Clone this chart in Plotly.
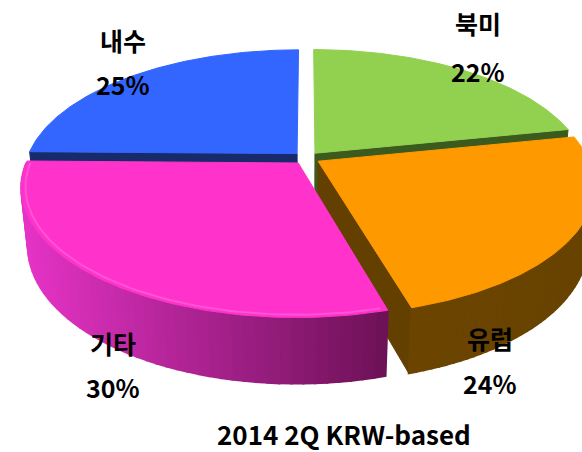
import numpy as np
import plotly.graph_objects as go

# ---------------- data ----------------
categories = ["북미", "유럽", "기타", "내수"]
values = [22, 24, 30, 25]
pct_labels = ["22%", "24%", "30%", "25%"]
title_text = "2014 2Q KRW-based"

# ---------------- style ----------------
top_colors = ["#92D050", "#FF9900", "#FF33CC", "#3366FF"]
radial_colors = ["#3B5A1E", "#634000", "#7A1560", "#172A6A"]
wall_left_colors = ["#4A6E26", "#6B4500", "#E533C6", "#1E3580"]
wall_right_colors = ["#4A6E26", "#684300", "#6C1156", "#1E3580"]
rim_highlight = [False, False, True, False]
label_pos = [(478, 23, 71), (490, 338, 383), (113, 343, 387), (123, 40, 84)]
FONT = "Noto Sans CJK KR"

# projection parameters (pixel space)
W, H = 582, 452
CX, CY = 306.5, 158.0
S = 270.0
ALPHA = np.radians(27.4)
DIST = 4.85
THICK = 0.245
EXPLODE = 0.05
sinA, cosA = np.sin(ALPHA), np.cos(ALPHA)


def proj(X, Yd, z):
    X = np.asarray(X, float)
    Yd = np.asarray(Yd, float)
    depth = -Yd * cosA + z * sinA
    sy = Yd * sinA + z * cosA
    f = DIST / (DIST - depth)
    return CX + S * X * f, CY - S * sy * f


def lerp_color(c1, c2, t):
    a = [int(c1[i:i + 2], 16) for i in (1, 3, 5)]
    b = [int(c2[i:i + 2], 16) for i in (1, 3, 5)]
    c = [round(a[k] + (b[k] - a[k]) * t) for k in range(3)]
    return "#%02X%02X%02X" % tuple(c)


fig = go.Figure()


def poly(xs, ys, color, lw=1.0):
    xs = list(xs) + [xs[0]]
    ys = list(ys) + [ys[0]]
    fig.add_trace(go.Scatter(x=xs, y=ys, mode="lines", fill="toself",
                             fillcolor=color, line=dict(color=color, width=lw),
                             hoverinfo="skip", showlegend=False))


vals = np.array(values, float)
fr = vals / vals.sum()
bounds = np.concatenate([[0], np.cumsum(fr)]) * 2 * np.pi  # clockwise from top

slices = []
for i in range(len(values)):
    a0, a1 = bounds[i], bounds[i + 1]
    mid = (a0 + a1) / 2
    ox, oy = EXPLODE * np.sin(mid), EXPLODE * np.cos(mid)
    slices.append((a0, a1, ox, oy))

# painter's order: back slices first
order = sorted(range(len(values)),
               key=lambda i: np.cos((bounds[i] + bounds[i + 1]) / 2), reverse=True)

for i in order:
    a0, a1, ox, oy = slices[i]
    # radial faces (visible if facing the viewer)
    for ang, sgn in ((a0, -1), (a1, 1)):
        nang = ang + sgn * np.pi / 2
        if np.cos(nang) < -0.05:
            X = np.array([ox, ox + np.sin(ang), ox + np.sin(ang), ox])
            Y = np.array([oy, oy + np.cos(ang), oy + np.cos(ang), oy])
            zz = np.array([0, 0, -THICK, -THICK])
            px, py = [], []
            for k in range(4):
                x_, y_ = proj(X[k], Y[k], zz[k])
                px.append(float(x_)); py.append(float(y_))
            poly(px, py, radial_colors[i])
    # outer wall (front-facing part), drawn as shaded strips
    lo, hi = max(a0, np.pi / 2), min(a1, 1.5 * np.pi)
    if hi > lo:
        n = 50
        th = np.linspace(lo, hi, n + 1)
        X = ox + np.sin(th)
        Y = oy + np.cos(th)
        tx, ty = proj(X, Y, 0.0)
        bx, by = proj(X, Y, -THICK)
        xmin, xmax = min(tx.min(), bx.min()), max(tx.max(), bx.max())
        for k in range(n):
            xm = (tx[k] + tx[k + 1]) / 2
            t = (xm - xmin) / max(xmax - xmin, 1)
            col = lerp_color(wall_left_colors[i], wall_right_colors[i], t)
            poly([tx[k], tx[k + 1], bx[k + 1], bx[k]],
                 [ty[k], ty[k + 1], by[k + 1], by[k]], col, lw=2.0)
    # top face
    th = np.linspace(a0, a1, 120)
    X = np.concatenate([[ox], ox + np.sin(th)])
    Y = np.concatenate([[oy], oy + np.cos(th)])
    px, py = proj(X, Y, 0.0)
    poly(list(px), list(py), top_colors[i])
    # rim highlight on the front edge of the top face
    if hi > lo and rim_highlight[i]:
        th = np.linspace(lo + 0.02, hi, 80)
        rx, ry = proj(ox + 0.985 * np.sin(th), oy + 0.985 * np.cos(th), 0.0)
        hl = lerp_color(top_colors[i], "#FFFFFF", 0.3)
        fig.add_trace(go.Scatter(x=rx, y=ry, mode="lines",
                                 line=dict(color=hl, width=2),
                                 opacity=0.55, hoverinfo="skip", showlegend=False))

# labels
for i in range(len(values)):
    lx, ly1, ly2 = label_pos[i]
    fig.add_annotation(x=lx, y=ly1, text="<b>%s</b>" % categories[i], showarrow=False,
                       xanchor="center", yanchor="middle",
                       font=dict(family=FONT, size=25, color="#000000"))
    fig.add_annotation(x=lx, y=ly2, text="<b>%s</b>" % pct_labels[i], showarrow=False,
                       xanchor="center", yanchor="middle",
                       font=dict(family=FONT, size=25, color="#000000"))

fig.add_annotation(x=344, y=433, text="<b>%s</b>" % title_text, showarrow=False,
                   xanchor="center", yanchor="middle",
                   font=dict(family=FONT, size=26, color="#000000"))

fig.update_layout(
    width=W, height=H, margin=dict(l=0, r=0, t=0, b=0),
    paper_bgcolor="#FFFFFF", plot_bgcolor="#FFFFFF",
    xaxis=dict(range=[0, W], visible=False, fixedrange=True),
    yaxis=dict(range=[H, 0], visible=False, fixedrange=True),
    showlegend=False,
)

fig.write_html("out.html",
               config={"displayModeBar": False},
               post_script="document.body.style.margin='0px';"
                           "document.body.style.overflow='hidden';")
